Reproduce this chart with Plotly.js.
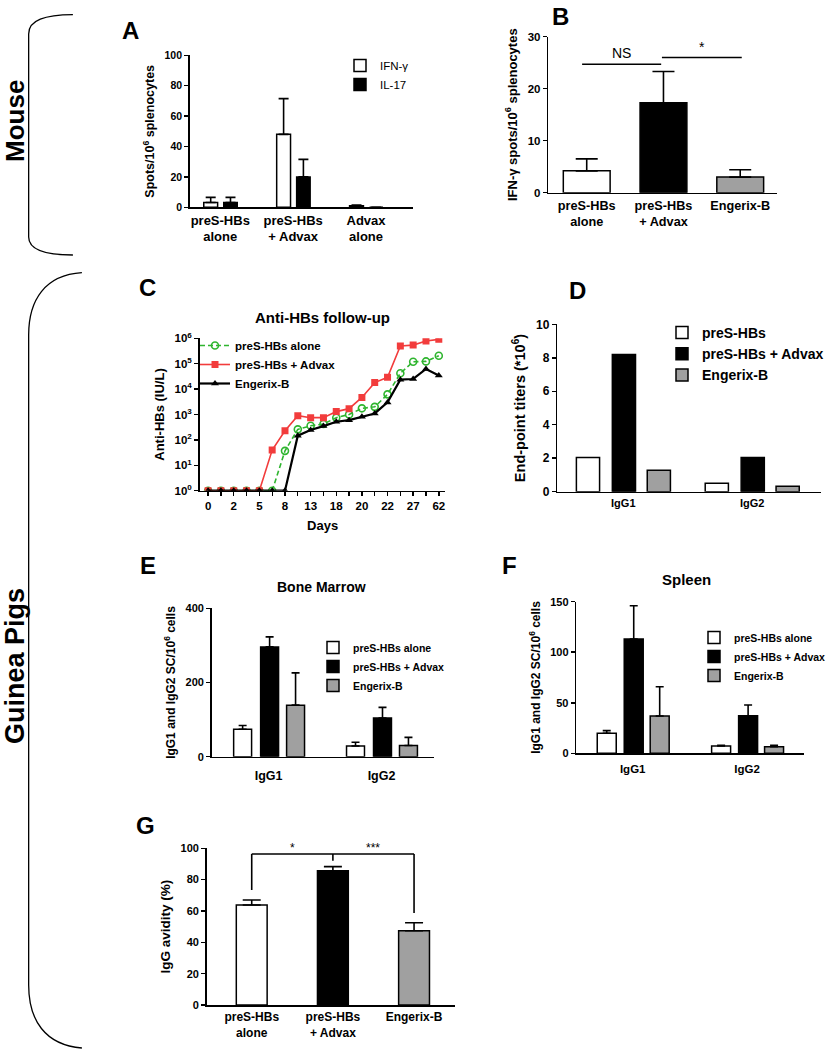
<!DOCTYPE html>
<html><head><meta charset="utf-8">
<script src="https://cdn.plot.ly/plotly-3.0.1.min.js"></script>
<style>html,body{margin:0;padding:0;background:#fff}#chart{width:831px;height:1050px}</style>
</head><body><div id="chart"></div>
<script>
// ---------- Panel A (Mouse ELISpot) ----------
const aCategories = ["preS-HBs<br>alone", "preS-HBs<br>+ Advax", "Advax<br>alone"];
const aIFN = [3.2, 48, 1.0];
const aIFNErr = [3.3, 23.5, 0.5];
const aIL17 = [3.2, 20, 0];
const aIL17Err = [3.3, 11.5, 0];

// ---------- Panel B ----------
const bCategories = ["preS-HBs<br>alone", "preS-HBs<br>+ Advax", "Engerix-B"];
const bIFN = [4.2, 17.3, 3.0];
const bIFNErr = [2.3, 6.0, 1.4];
const bSigX0 = [-0.06, 0.98];
const bSigX1 = [0.97, 2.02];
const bSigY = [24.7, 26.0];
const bSigText = ["NS", "*"];

// ---------- Panel C (Anti-HBs follow-up) ----------
const cTimepoints = [0, 1, 2, 3, 4, 5, 6, 7, 8, 9, 10, 11, 12, 13, 14, 15, 16, 17, 18];
const cTickPositions = [0, 2, 4, 6, 8, 10, 12, 14, 16, 18];
const cTickLabels = ["0", "2", "5", "8", "13", "18", "20", "22", "27", "62"];
const cAlone = [1, 1, 1, 1, 1, 1, 37, 260, 360, 420, 750, 1000, 1750, 2000, 6200, 42000, 120000, 123000, 205000];
const cAdvax = [1, 1, 1, 1, 1, 40, 230, 900, 750, 750, 1300, 1700, 4700, 18000, 29000, 500000, 540000, 780000, 910000];
const cEngerix = [1, 1, 1, 1, 1, 1, 1, 147, 245, 350, 520, 600, 820, 1100, 3000, 23500, 25000, 62000, 34000];
const cYTickVals = [1, 10, 100, 1000, 10000, 100000, 1000000];
const cYTickText = ["10<sup>0</sup>", "10<sup>1</sup>", "10<sup>2</sup>", "10<sup>3</sup>", "10<sup>4</sup>", "10<sup>5</sup>", "10<sup>6</sup>"];

// ---------- Panel D (End-point titers) ----------
const dCategories = ["IgG1", "IgG2"];
const dAlone = [2.05, 0.5];
const dAdvax = [8.2, 2.05];
const dEngerix = [1.28, 0.32];

// ---------- Panel E (Bone Marrow) ----------
const eCategories = ["IgG1", "IgG2"];
const eAlone = [74, 29];
const eAloneErr = [10, 10];
const eAdvax = [296, 104];
const eAdvaxErr = [27, 29];
const eEngerix = [139, 30];
const eEngerixErr = [87, 22];

// ---------- Panel F (Spleen) ----------
const fCategories = ["IgG1", "IgG2"];
const fAlone = [19.8, 7.3];
const fAloneErr = [2.6, 0.6];
const fAdvax = [113, 37.2];
const fAdvaxErr = [33, 10.6];
const fEngerix = [36.9, 6.6];
const fEngerixErr = [29, 1.3];

// ---------- Panel G (IgG avidity) ----------
const gCategories = ["preS-HBs<br>alone", "preS-HBs<br>+ Advax", "Engerix-B"];
const gAvidity = [63.8, 85.7, 47.4];
const gAvidityErr = [3.2, 2.6, 5.1];
const gBracketY = 96.4;
const gBracketX = [0, 1, 2];
const gBracketEnds = [73.4, 92, 58.7];
const gSigX = [0.5, 1.5];
const gSigText = ["*", "***"];

// ---------- helpers ----------
const W = 831, H = 1050;
const px = v => v / W;
const py = v => 1 - v / H;
const xd = (a, b) => [px(a), px(b)];
const yd = (top, bottom) => [py(bottom), py(top)];
const WHITE = "#ffffff", BLACK = "#000000", GREY = "#a0a0a0";
const zeros = arr => arr.map(() => 0);
const FONT = "Liberation Sans, Arial, sans-serif";
const f = (size, weight) => ({family: FONT, size: size, color: BLACK, weight: weight || "bold"});

function err(arr, w) {
  return {type: "data", symmetric: false, array: arr, arrayminus: zeros(arr),
          color: BLACK, thickness: 1.6, width: w};
}
function barTrace(x, y, fill, xa, ya, offset, width, name, legend, e, ew) {
  const t = {type: "bar", x: x, y: y, xaxis: xa, yaxis: ya, offset: offset, width: width,
    name: name, marker: {color: fill, line: {color: BLACK, width: 1.5}},
    showlegend: !!legend, hoverinfo: "skip"};
  if (legend) t.legend = legend;
  if (e) t.error_y = err(e, ew);
  return t;
}

const traces = [
  // A
  barTrace(aCategories, aIFN, WHITE, "x", "y", -0.226, 0.19, "IFN-γ", "legend", aIFNErr, 5),
  barTrace(aCategories, aIL17, BLACK, "x", "y", 0.048, 0.185, "IL-17", "legend", aIL17Err, 5),
  // B
  barTrace(bCategories, bIFN, [WHITE, BLACK, GREY], "x2", "y2", -0.305, 0.61, "B", null, bIFNErr, 11),
  // C
  {type: "scatter", mode: "lines+markers", x: cTimepoints, y: cAlone, xaxis: "x3", yaxis: "y3",
   name: "preS-HBs alone", legend: "legend2", hoverinfo: "skip",
   line: {color: "#2fb52f", width: 1.6, dash: "5px,3px"},
   marker: {symbol: "circle-open", size: 7, color: "#2fb52f", line: {width: 1.6}}},
  {type: "scatter", mode: "lines+markers", x: cTimepoints, y: cAdvax, xaxis: "x3", yaxis: "y3",
   name: "preS-HBs + Advax", legend: "legend2", hoverinfo: "skip",
   line: {color: "#f23c3c", width: 1.6},
   marker: {symbol: "square", size: 7, color: "#f23c3c"}},
  {type: "scatter", mode: "lines+markers", x: cTimepoints, y: cEngerix, xaxis: "x3", yaxis: "y3",
   name: "Engerix-B", legend: "legend2", hoverinfo: "skip",
   line: {color: BLACK, width: 2.2},
   marker: {symbol: "triangle-up", size: 7, color: BLACK}},
  // D
  barTrace(dCategories, dAlone, WHITE, "x4", "y4", -0.364, 0.18, "preS-HBs", "legend3"),
  barTrace(dCategories, dAdvax, BLACK, "x4", "y4", -0.085, 0.18, "preS-HBs + Advax", "legend3"),
  barTrace(dCategories, dEngerix, GREY, "x4", "y4", 0.186, 0.18, "Engerix-B", "legend3"),
  // E
  barTrace(eCategories, eAlone, WHITE, "x5", "y5", -0.31, 0.159, "preS-HBs alone", "legend4", eAloneErr, 4),
  barTrace(eCategories, eAdvax, BLACK, "x5", "y5", -0.071, 0.159, "preS-HBs + Advax", "legend4", eAdvaxErr, 4),
  barTrace(eCategories, eEngerix, GREY, "x5", "y5", 0.159, 0.159, "Engerix-B", "legend4", eEngerixErr, 4),
  // F
  barTrace(fCategories, fAlone, WHITE, "x6", "y6", -0.31, 0.166, "preS-HBs alone", "legend5", fAloneErr, 4),
  barTrace(fCategories, fAdvax, BLACK, "x6", "y6", -0.074, 0.166, "preS-HBs + Advax", "legend5", fAdvaxErr, 4),
  barTrace(fCategories, fEngerix, GREY, "x6", "y6", 0.153, 0.166, "Engerix-B", "legend5", fEngerixErr, 4),
  // G
  barTrace(gCategories, gAvidity, [WHITE, BLACK, GREY], "x7", "y7", -0.19, 0.38, "G", null, gAvidityErr, 9)
];

const axBase = {showline: true, linecolor: BLACK, linewidth: 1.6, showgrid: false, zeroline: false,
  ticks: "outside", ticklen: 4, tickwidth: 1.5, tickcolor: BLACK, fixedrange: true, tickfont: f(11)};
function xax(dom, range, anchor, tsize, extra) {
  return Object.assign({}, axBase, {domain: dom, range: range, anchor: anchor, ticks: "", type: "category",
    tickfont: f(tsize)}, extra || {});
}
function yax(dom, range, dtick, anchor, title, tsize, extra) {
  return Object.assign({}, axBase, {domain: dom, range: range, dtick: dtick, anchor: anchor,
    title: {text: title, font: f(tsize), standoff: 7}}, extra || {});
}
function legendAt(x, y, size, weight) {
  return {x: px(x), y: py(y), xanchor: "left", yanchor: "top", bgcolor: "rgba(0,0,0,0)",
    font: f(size, weight), tracegroupgap: 0, itemclick: false};
}

const shapes = [];
const annotations = [];
// significance lines B
for (let i = 0; i < bSigX0.length; i++) {
  shapes.push({type: "line", xref: "x2", yref: "y2", x0: bSigX0[i], x1: bSigX1[i], y0: bSigY[i], y1: bSigY[i],
    line: {color: BLACK, width: 1.6}});
  annotations.push({xref: "x2", yref: "y2", x: (bSigX0[i] + bSigX1[i]) / 2, y: bSigY[i], yanchor: "bottom",
    yshift: 1, text: bSigText[i], showarrow: false, font: f(14, "normal")});
}
// bracket G
shapes.push({type: "line", xref: "x7", yref: "y7", x0: gBracketX[0], x1: gBracketX[2], y0: gBracketY, y1: gBracketY,
  line: {color: BLACK, width: 1.6}});
for (let i = 0; i < gBracketX.length; i++) {
  shapes.push({type: "line", xref: "x7", yref: "y7", x0: gBracketX[i], x1: gBracketX[i], y0: gBracketY, y1: gBracketEnds[i],
    line: {color: BLACK, width: 1.6}});
}
for (let i = 0; i < gSigX.length; i++) {
  annotations.push({xref: "x7", yref: "y7", x: gSigX[i], y: gBracketY, yanchor: "bottom", yshift: -3,
    text: gSigText[i], showarrow: false, font: f(12, "normal")});
}
// braces
const mouseBrace = `M ${px(73)},${py(14.7)} C ${px(45)},${py(15)} ${px(28.7)},${py(20)} ${px(28.7)},${py(34)} L ${px(28.7)},${py(237)} C ${px(28.7)},${py(250)} ${px(45)},${py(255)} ${px(73)},${py(255)}`;
const guineaBrace = `M ${px(82)},${py(272.7)} C ${px(45)},${py(275)} ${px(28.7)},${py(300)} ${px(28.7)},${py(335)} L ${px(28.7)},${py(985)} C ${px(28.7)},${py(1020)} ${px(45)},${py(1045)} ${px(82)},${py(1048)}`;
shapes.push({type: "path", xref: "paper", yref: "paper", path: mouseBrace, line: {color: BLACK, width: 1.3}});
shapes.push({type: "path", xref: "paper", yref: "paper", path: guineaBrace, line: {color: BLACK, width: 1.3}});

function paperText(x, y, text, size, extra) {
  annotations.push(Object.assign({xref: "paper", yref: "paper", x: px(x), y: py(y), text: text, showarrow: false,
    xanchor: "center", yanchor: "middle", font: f(size)}, extra || {}));
}
paperText(15, 121, "Mouse", 26, {textangle: -90});
paperText(15, 666, "Guinea Pigs", 27, {textangle: -90});
paperText(131, 30, "A", 24);
paperText(561, 16, "B", 24);
paperText(148, 287, "C", 24);
paperText(578, 290, "D", 24);
paperText(148, 565, "E", 24);
paperText(510, 565, "F", 24);
paperText(146, 825, "G", 24);
paperText(323, 317, "Anti-HBs follow-up", 15);
paperText(322, 587, "Bone Marrow", 14);
paperText(687, 579, "Spleen", 15);

const layout = {
  width: W, height: H, margin: {l: 0, r: 0, t: 0, b: 0}, paper_bgcolor: "#fff", plot_bgcolor: "rgba(0,0,0,0)",
  font: f(11), barmode: "overlay", hovermode: false,
  xaxis: xax(xd(190, 413), [-0.418, 2.637], "y", 13),
  yaxis: yax(yd(55.3, 207.3), [0, 100], 20, "x", "Spots/10<sup>6</sup> splenocytes", 12.5, {tickfont: f(10.5)}),
  xaxis2: xax(xd(549, 778), [-0.5, 2.48], "y2", 12.7),
  yaxis2: yax(yd(36.7, 192.7), [0, 30], 10, "x2", "IFN-γ spots/10<sup>6</sup> splenocytes", 13, {tickfont: f(11.5)}),
  xaxis3: Object.assign({}, axBase, {domain: xd(200, 446), range: [-0.65, 18.52], anchor: "y3",
    tickmode: "array", tickvals: cTickPositions, ticktext: cTickLabels, tickfont: f(11.5),
    minor: {tickmode: "linear", tick0: 0, dtick: 1, ticks: "outside", ticklen: 4, tickwidth: 1.2, tickcolor: BLACK},
    title: {text: "Days", font: f(13), standoff: 10}}),
  yaxis3: Object.assign({}, axBase, {domain: yd(338.3, 490.7), type: "log", range: [0, 6], anchor: "x3",
    tickmode: "array", tickvals: cYTickVals, ticktext: cYTickText, tickfont: f(11.5),
    title: {text: "Anti-HBs (IU/L)", font: f(13), standoff: 7}}),
  xaxis4: xax(xd(558, 822), [-0.512, 1.535], "y4", 11),
  yaxis4: yax(yd(324.3, 491.7), [0, 10], 2, "x4", "End-point titers (*10<sup>6</sup>)", 14.5, {tickfont: f(12)}),
  xaxis5: xax(xd(212, 435), [-0.504, 1.469], "y5", 12.5, {ticklabelstandoff: 7}),
  yaxis5: yax(yd(608.3, 756.7), [0, 400], 200, "x5", "IgG1 and IgG2 SC/10<sup>6</sup> cells", 12, {tickfont: f(11)}),
  xaxis6: xax(xd(577, 805), [-0.493, 1.498], "y6", 11.5, {ticklabelstandoff: 4}),
  yaxis6: yax(yd(601.7, 753.3), [0, 150], 50, "x6", "IgG1 and IgG2 SC/10<sup>6</sup> cells", 12, {tickfont: f(11)}),
  xaxis7: xax(xd(207, 456), [-0.554, 2.51], "y7", 12),
  yaxis7: yax(yd(848.3, 1005), [0, 100], 20, "x7", "IgG avidity (%)", 13.5, {tickfont: f(11)}),
  legend: legendAt(340, 51, 11.5, "normal"),
  legend2: legendAt(195, 331, 11.5, "bold"),
  legend3: legendAt(662, 317, 14, "bold"),
  legend4: legendAt(313, 633, 10.5, "bold"),
  legend5: legendAt(695, 623, 10.5, "bold"),
  shapes: shapes,
  annotations: annotations
};

Plotly.newPlot("chart", traces, layout, {staticPlot: true, displayModeBar: false});
</script>
</body></html>
